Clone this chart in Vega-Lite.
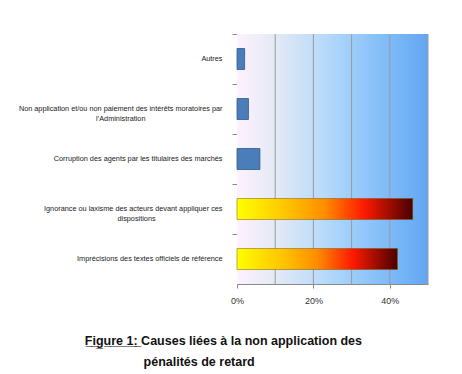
{
  "$schema": "https://vega.github.io/schema/vega-lite/v6.json",
  "width": 191,
  "height": 250,
  "autosize": {"type": "none"},
  "padding": {"left": 237, "top": 34, "right": 34, "bottom": 90},
  "background": "white",
  "config": {
    "font": "Liberation Sans",
    "view": {"stroke": null}
  },
  "title": {
    "text": ["F\u0332i\u0332g\u0332u\u0332r\u0332e\u0332 \u03321\u0332:\u0332 Causes liées à la non application des", "pénalités de retard\u00a0\u00a0\u00a0\u00a0\u00a0\u00a0\u00a0\u00a0\u00a0\u00a0\u00a0\u00a0\u00a0\u00a0\u200b"],
    "orient": "bottom",
    "anchor": "middle",
    "frame": "bounds",
    "font": "Liberation Sans",
    "fontSize": 12.5,
    "fontWeight": "bold",
    "color": "#111111",
    "offset": 30,
    "lineHeight": 21
  },
  "datasets": {
    "causes": [
      {"cause": "Autres", "pct": 0.02},
      {"cause": "Non application et/ou non paiement des intérêts moratoires par l’Administration", "pct": 0.03},
      {"cause": "Corruption des agents par les titulaires des marchés", "pct": 0.06},
      {"cause": "Ignorance ou laxisme des acteurs devant appliquer ces dispositions", "pct": 0.46},
      {"cause": "Imprécisions des textes officiels de référence", "pct": 0.42}
    ],
    "wall": [{"start": 0, "end": 0.5}],
    "grid": [{"g": 0.1}, {"g": 0.2}, {"g": 0.3}, {"g": 0.4}, {"g": 0.5}]
  },
  "layer": [
    {
      "data": {"name": "wall"},
      "mark": {
        "type": "rect",
        "fill": {
          "gradient": "linear",
          "x1": 0, "y1": 0, "x2": 1, "y2": 0,
          "stops": [
            {"offset": 0, "color": "#fdf2fd"},
            {"offset": 0.2, "color": "#e4e9f6"},
            {"offset": 0.45, "color": "#b8dbfa"},
            {"offset": 0.7, "color": "#8cc4f9"},
            {"offset": 1, "color": "#62a6f4"}
          ]
        }
      },
      "encoding": {
        "x": {
          "field": "start",
          "type": "quantitative",
          "title": null,
          "scale": {"domain": [0, 0.5]},
          "axis": {
            "title": null,
            "format": "%",
            "values": [0, 0.1, 0.2, 0.3, 0.4, 0.5],
            "grid": false,
            "labelOverlap": false,
            "labelFlush": false,
            "domainColor": "#8a8a8a",
            "tickColor": "#8a8a8a",
            "tickSize": 4,
            "labelPadding": 8,
            "labelFontSize": 9,
            "labelColor": "#333333"
          }
        },
        "x2": {"field": "end"}
      }
    },
    {
      "data": {"name": "grid"},
      "mark": {"type": "rule", "color": "#9a9a9a", "strokeWidth": 1},
      "encoding": {
        "x": {"field": "g", "type": "quantitative", "title": null}
      }
    },
    {
      "data": {"name": "causes"},
      "encoding": {
        "y": {
          "field": "cause",
          "type": "nominal",
          "sort": ["Autres", "Non application et/ou non paiement des intérêts moratoires par l’Administration", "Corruption des agents par les titulaires des marchés", "Ignorance ou laxisme des acteurs devant appliquer ces dispositions", "Imprécisions des textes officiels de référence"],
          "title": null,
          "scale": {"paddingInner": 0, "paddingOuter": 0},
          "axis": {
            "title": null,
            "bandPosition": 0,
            "tickSize": 5,
            "tickColor": "#8a8a8a",
            "domainColor": "#8a8a8a",
            "labelFontSize": 7.3,
            "labelColor": "#1a1a1a",
            "labelLimit": 300,
            "labelLineHeight": 10,
            "labelPadding": 10,
            "labelAlign": "right",
            "labelExpr": "indexof(datum.value,'Non application')==0 ? ['Non application et/ou non paiement des intérêts moratoires par', 'l’Administration\u00a0\u00a0\u00a0\u00a0\u00a0\u00a0\u00a0\u00a0\u00a0\u00a0\u00a0\u00a0\u00a0\u00a0\u00a0\u00a0\u00a0\u00a0\u00a0\u00a0\u00a0\u00a0\u00a0\u00a0\u00a0\u00a0\u00a0\u00a0\u00a0\u00a0\u00a0\u00a0\u00a0\u00a0\u00a0\u00a0\u00a0\u00a0\u200b'] : indexof(datum.value,'Ignorance')==0 ? ['Ignorance ou laxisme des acteurs devant appliquer ces', 'dispositions\u00a0\u00a0\u00a0\u00a0\u00a0\u00a0\u00a0\u00a0\u00a0\u00a0\u00a0\u00a0\u00a0\u00a0\u00a0\u00a0\u00a0\u00a0\u00a0\u00a0\u00a0\u00a0\u00a0\u00a0\u00a0\u00a0\u00a0\u00a0\u00a0\u00a0\u00a0\u00a0\u00a0\u200b'] : datum.label"
          }
        },
        "x": {"field": "pct", "type": "quantitative", "title": null}
      },
      "layer": [
        {
          "transform": [{"filter": "datum.pct >= 0.1"}],
          "mark": {
            "type": "bar",
            "height": {"band": 0.42},
            "stroke": "#7a5a00",
            "strokeWidth": 0.5,
            "fill": {
              "gradient": "linear",
              "x1": 0, "y1": 0, "x2": 1, "y2": 0,
              "stops": [
                {"offset": 0, "color": "#ffff00"},
                {"offset": 0.3, "color": "#ffc000"},
                {"offset": 0.5, "color": "#ff8c00"},
                {"offset": 0.72, "color": "#ff1a00"},
                {"offset": 1, "color": "#4a0000"}
              ]
            }
          }
        },
        {
          "transform": [{"filter": "datum.pct < 0.1"}],
          "mark": {"type": "bar", "height": {"band": 0.42}, "fill": "#4a7ebb", "stroke": "#2f5a8c", "strokeWidth": 0.8}
        }
      ]
    }
  ]
}
